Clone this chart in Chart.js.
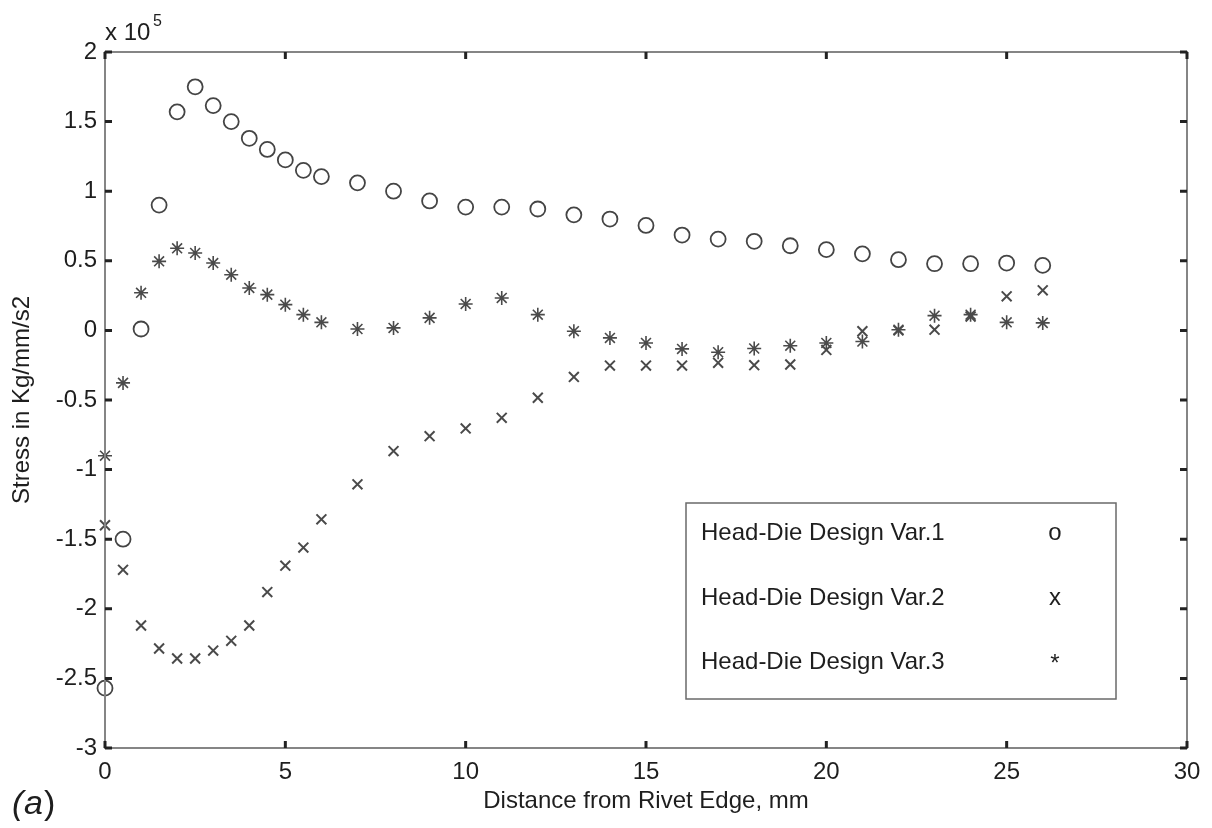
<!DOCTYPE html>
<html>
<head>
<meta charset="utf-8">
<script src="https://cdn.jsdelivr.net/npm/chart.js@4.4.1/dist/chart.umd.min.js"></script>
<style>
  body { margin: 0; background: #fff; }
  canvas { display: block; }
</style>
</head>
<body>
<canvas id="myChart" width="1212" height="828"></canvas>
<script>
// distance from rivet edge (mm)
const distance = [0, 0.5, 1, 1.5, 2, 2.5, 3, 3.5, 4, 4.5, 5, 5.5, 6, 7, 8, 9, 10, 11, 12, 13, 14, 15, 16, 17, 18, 19, 20, 21, 22, 23, 24, 25, 26];

// stress values, in units of 10^5
const var1 = [-2.57, -1.50, 0.01, 0.90, 1.57, 1.75, 1.615, 1.50, 1.38, 1.30, 1.225, 1.15, 1.105, 1.06, 1.00, 0.93, 0.886, 0.886, 0.872, 0.83, 0.80, 0.754, 0.685, 0.656, 0.64, 0.608, 0.58, 0.55, 0.508, 0.479, 0.479, 0.484, 0.467];
const var2 = [-1.40, -1.72, -2.12, -2.285, -2.357, -2.357, -2.30, -2.23, -2.12, -1.88, -1.69, -1.56, -1.357, -1.106, -0.867, -0.76, -0.704, -0.628, -0.484, -0.334, -0.253, -0.253, -0.253, -0.233, -0.25, -0.245, -0.14, -0.006, 0.0, 0.005, 0.1, 0.245, 0.288];
const var3 = [-0.90, -0.377, 0.27, 0.496, 0.59, 0.556, 0.484, 0.40, 0.305, 0.257, 0.185, 0.113, 0.058, 0.01, 0.018, 0.09, 0.19, 0.233, 0.113, -0.006, -0.054, -0.09, -0.133, -0.157, -0.13, -0.11, -0.09, -0.08, 0.005, 0.106, 0.113, 0.058, 0.054];

const seriesNames = ['Head-Die Design Var.1', 'Head-Die Design Var.2', 'Head-Die Design Var.3'];
const seriesSymbols = ['o', 'x', '*'];

const FONT = "'Liberation Sans', Arial, sans-serif";
const TEXT = '#1e1e1e';

const toPoints = (ys) => distance.map((x, i) => ({ x: x, y: ys[i] }));

// frame, inward ticks, multiplier, panel label and the text legend
const matlabBox = {
  id: 'matlabBox',
  afterDraw(chart) {
    const { ctx, chartArea: a, scales } = chart;
    ctx.save();

    ctx.strokeStyle = '#858585';
    ctx.lineWidth = 2;
    ctx.strokeRect(a.left, a.top, a.right - a.left, a.bottom - a.top);

    ctx.strokeStyle = '#222';
    ctx.lineWidth = 3;
    const len = 7;
    scales.x.ticks.forEach(t => {
      const px = scales.x.getPixelForValue(t.value);
      ctx.beginPath();
      ctx.moveTo(px, a.bottom); ctx.lineTo(px, a.bottom - len);
      ctx.moveTo(px, a.top); ctx.lineTo(px, a.top + len);
      ctx.stroke();
    });
    scales.y.ticks.forEach(t => {
      const py = scales.y.getPixelForValue(t.value);
      ctx.beginPath();
      ctx.moveTo(a.left, py); ctx.lineTo(a.left + len, py);
      ctx.moveTo(a.right, py); ctx.lineTo(a.right - len, py);
      ctx.stroke();
    });

    ctx.fillStyle = TEXT;
    ctx.textBaseline = 'alphabetic';
    ctx.textAlign = 'left';
    ctx.font = '24px ' + FONT;
    ctx.fillText('x 10', a.left, 40);
    ctx.font = '16px ' + FONT;
    ctx.fillText('5', a.left + 48, 26);

    ctx.font = 'italic 34px ' + FONT;
    ctx.fillText('(', 12, 814);
    ctx.fillText('a', 24, 814);
    ctx.font = '34px ' + FONT;
    ctx.fillText(')', 44, 814);

    // legend box
    const lx = 686, ly = 503, lw = 430, lh = 196;
    ctx.fillStyle = '#fff';
    ctx.fillRect(lx, ly, lw, lh);
    ctx.strokeStyle = '#6a6a6a';
    ctx.lineWidth = 1.5;
    ctx.strokeRect(lx, ly, lw, lh);
    ctx.fillStyle = TEXT;
    ctx.font = '24px ' + FONT;
    ctx.textBaseline = 'middle';
    const rows = [533, 598, 662];
    seriesNames.forEach((name, i) => {
      ctx.textAlign = 'left';
      ctx.fillText(name, lx + 15, rows[i]);
      ctx.textAlign = 'center';
      ctx.fillText(seriesSymbols[i], 1055, rows[i] + (i === 2 ? 2 : 0));
    });
    ctx.restore();
  }
};

const ctx = document.getElementById('myChart').getContext('2d');
new Chart(ctx, {
  type: 'scatter',
  data: {
    datasets: [
      {
        label: seriesNames[0],
        data: toPoints(var1),
        pointStyle: 'circle',
        pointRadius: 7.5,
        borderColor: '#444',
        backgroundColor: 'rgba(0,0,0,0)',
        borderWidth: 1.8,
        clip: false
      },
      {
        label: seriesNames[1],
        data: toPoints(var2),
        pointStyle: 'crossRot',
        pointRadius: 7,
        borderColor: '#4a4a4a',
        borderWidth: 2,
        clip: false
      },
      {
        label: seriesNames[2],
        data: toPoints(var3),
        pointStyle: 'star',
        pointRadius: 7,
        borderColor: '#4a4a4a',
        borderWidth: 1.6,
        clip: false
      }
    ]
  },
  options: {
    responsive: false,
    animation: false,
    layout: { padding: { top: 52, right: 25, left: 0, bottom: 0 } },
    plugins: {
      legend: { display: false },
      tooltip: { enabled: false }
    },
    scales: {
      x: {
        type: 'linear',
        min: 0,
        max: 30,
        ticks: { stepSize: 5, color: TEXT, font: { family: FONT, size: 24 }, padding: 10, maxRotation: 0 },
        grid: { display: false, drawTicks: false },
        border: { display: false },
        title: { display: true, text: 'Distance from Rivet Edge, mm', color: TEXT, font: { family: FONT, size: 24 }, padding: { top: 0, bottom: 12 } },
        afterFit(scale) { scale.height = 80; }
      },
      y: {
        min: -3,
        max: 2,
        ticks: {
          stepSize: 0.5,
          color: TEXT,
          font: { family: FONT, size: 24 },
          padding: 8,
          callback: (v) => String(Number(v.toFixed(1)))
        },
        grid: { display: false, drawTicks: false },
        border: { display: false },
        title: { display: true, text: 'Stress in Kg/mm/s2', color: TEXT, font: { family: FONT, size: 24 }, padding: { top: 8, bottom: 0 } },
        afterFit(scale) { scale.width = 105; }
      }
    }
  },
  plugins: [matlabBox]
});
</script>
</body>
</html>
